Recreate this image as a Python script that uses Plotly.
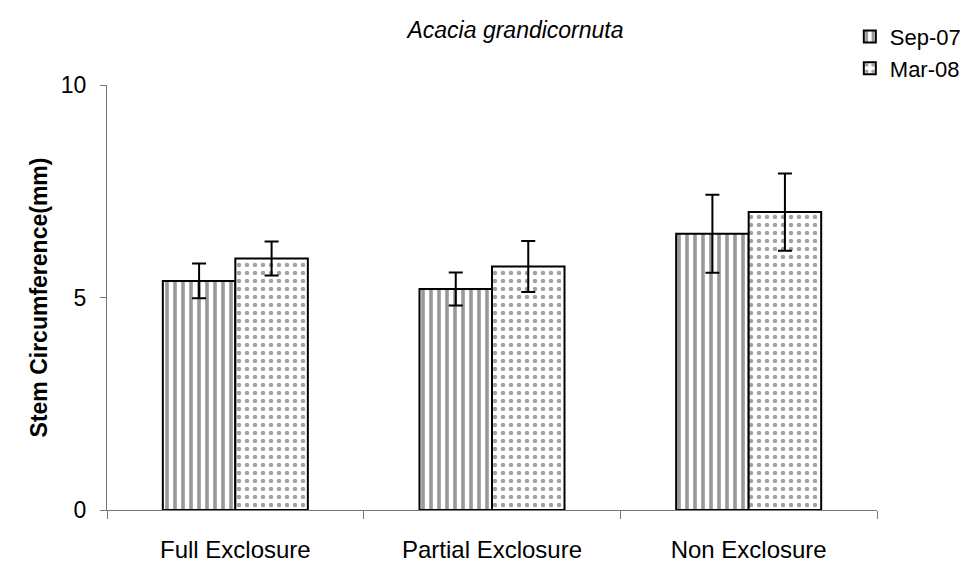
import plotly.graph_objects as go

# Stem circumference by exclosure treatment, two survey dates
sites = ["Full Exclosure", "Partial Exclosure", "Non Exclosure"]
sep07 = [5.39, 5.20, 6.50]
sep07_err = [0.41, 0.39, 0.92]
mar08 = [5.92, 5.73, 7.01]
mar08_err = [0.40, 0.60, 0.91]
y_ticks = [0, 5, 10]

FONT = "Liberation Sans, Arial, sans-serif"

fig = go.Figure()
fig.add_trace(go.Bar(
    name="Sep-07", x=sites, y=sep07,
    error_y=dict(type="data", array=sep07_err, color="black", thickness=2, width=7),
    marker=dict(color="white", line=dict(color="black", width=2),
                pattern=dict(shape="|", fgcolor="#333333", bgcolor="white",
                             size=8, solidity=0.45)),
))
fig.add_trace(go.Bar(
    name="Mar-08", x=sites, y=mar08,
    error_y=dict(type="data", array=mar08_err, color="black", thickness=2, width=7),
    marker=dict(color="white", line=dict(color="black", width=2),
                pattern=dict(shape=".", fgcolor="#444444", bgcolor="white",
                             size=8, solidity=0.25)),
))

fig.update_layout(
    width=969, height=563,
    margin=dict(l=107, r=92, t=85, b=53, autoexpand=False),
    paper_bgcolor="white", plot_bgcolor="white",
    barmode="group", bargap=0.435, bargroupgap=0,
    font=dict(family=FONT, size=24, color="black"),
    title=dict(text="<i>Acacia grandicornuta</i>", x=0.532, xanchor="center",
               y=0.947, yanchor="middle", font=dict(family=FONT, size=23)),
    showlegend=True,
    legend=dict(x=0.877, xanchor="left", y=0.972, yanchor="top",
                xref="container", yref="container",
                bgcolor="rgba(0,0,0,0)", font=dict(size=22),
                itemwidth=30, tracegroupgap=0),
    xaxis=dict(showline=True, linecolor="#777777", linewidth=1,
               ticks="outside", tickson="boundaries", ticklen=8,
               tickcolor="#777777", showgrid=False, automargin=False,
               tickfont=dict(size=24), ticklabelstandoff=18),
    yaxis=dict(range=[0, 10], tickvals=y_ticks, showline=True,
               linecolor="#777777", linewidth=1, ticks="outside", ticklen=6,
               tickcolor="#777777", showgrid=False, zeroline=False,
               automargin=False, tickfont=dict(size=23), ticklabelstandoff=9,
               title=dict(text="<b>Stem Circumference(mm)</b>",
                          font=dict(size=23), standoff=6)),
)

fig.write_html("out.html")
